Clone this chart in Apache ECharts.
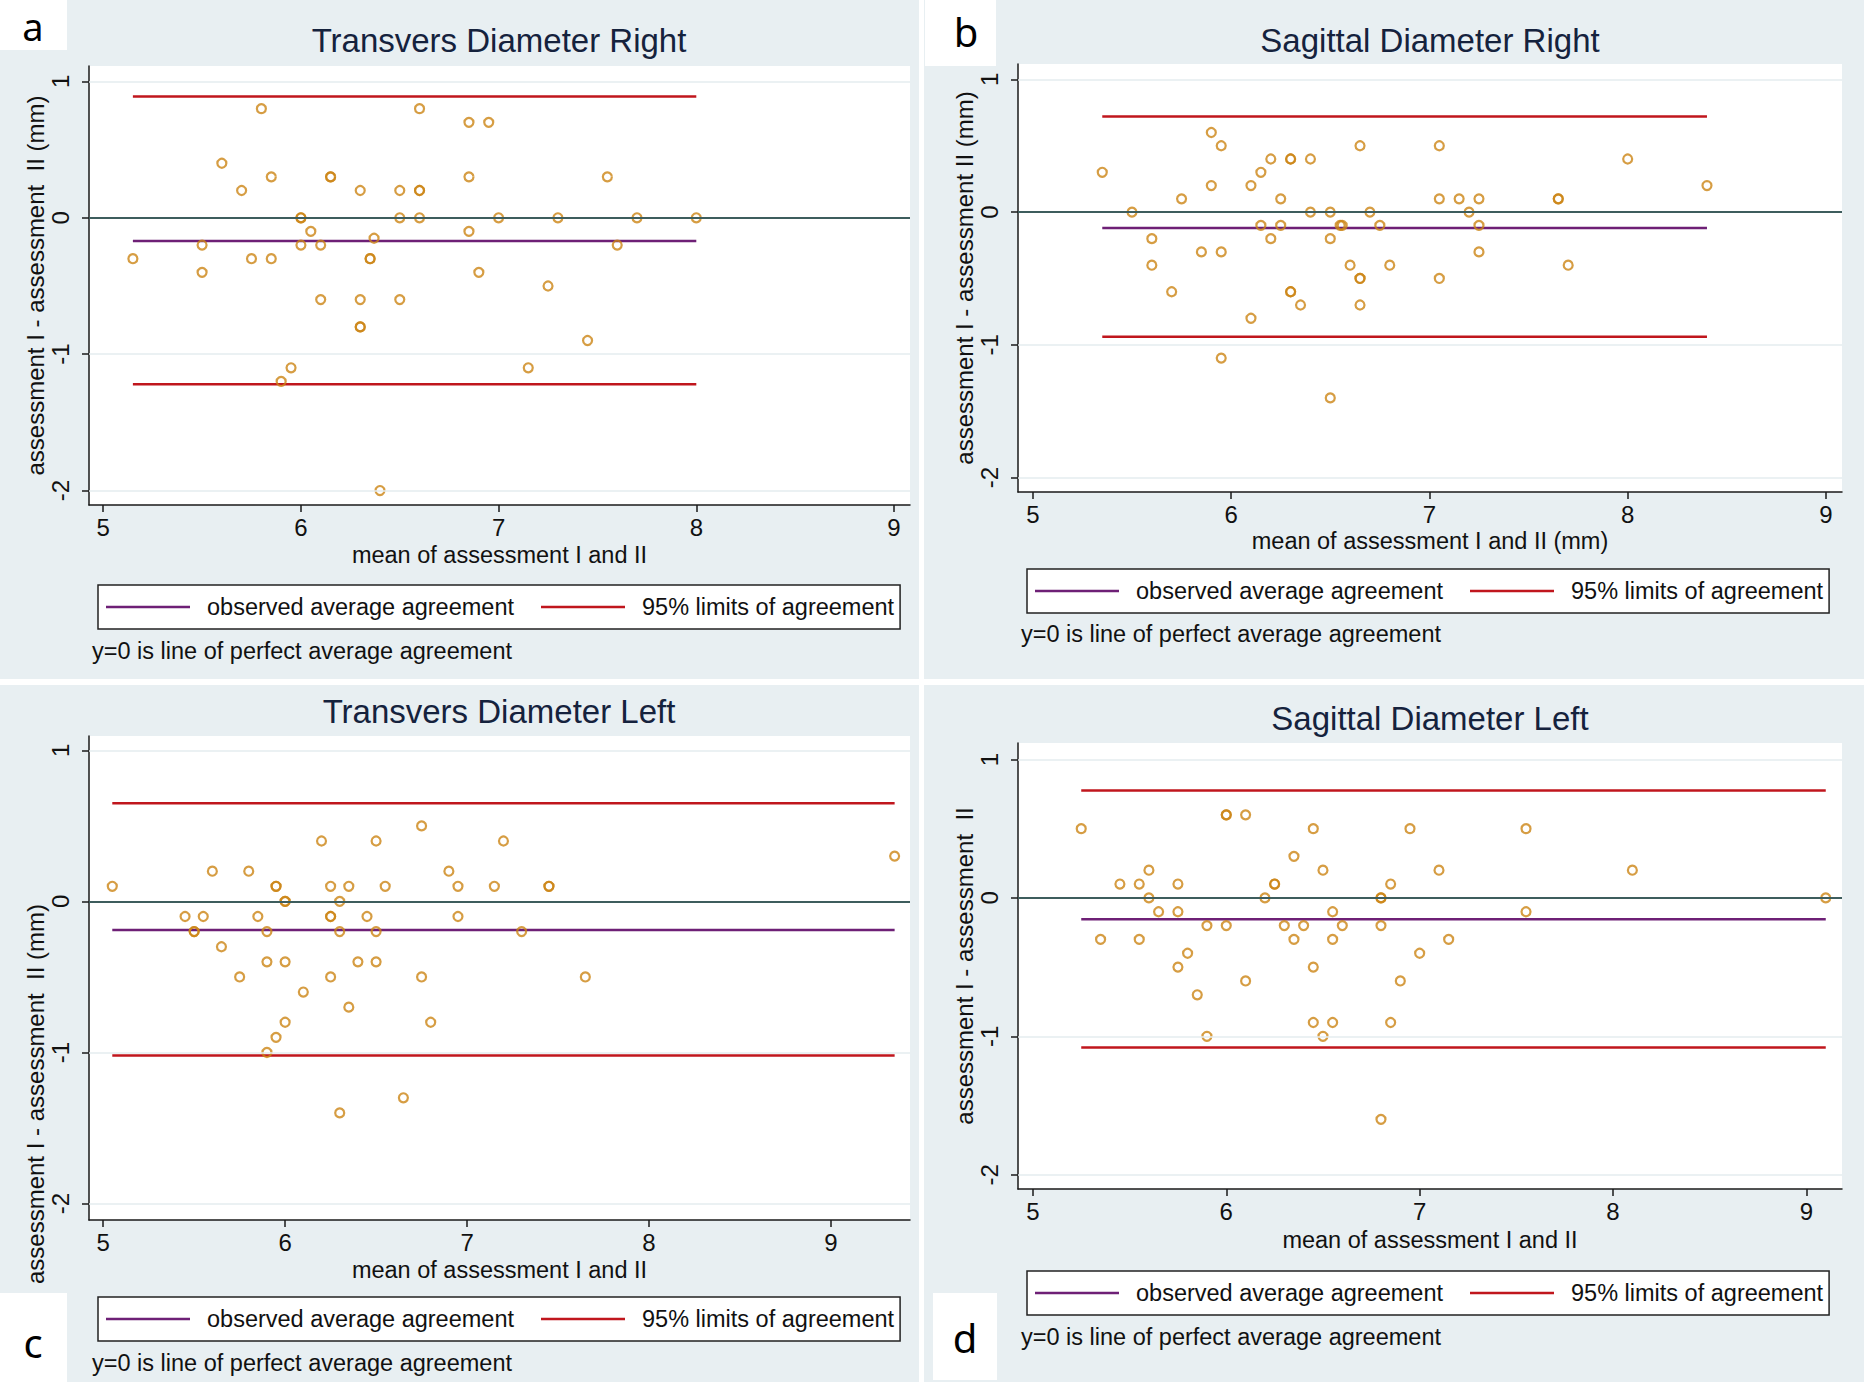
<!DOCTYPE html>
<html><head><meta charset="utf-8">
<script src="https://cdn.jsdelivr.net/npm/echarts@6/dist/echarts.min.js"></script>
<style>html,body{margin:0;padding:0;background:#fff}#c{width:1864px;height:1382px}</style>
</head><body><div id="c"></div>
<script>
// ---------- DATA ----------
const titles = ['Transvers Diameter Right', 'Sagittal Diameter Right', 'Transvers Diameter Left', 'Sagittal Diameter Left'];
const xTitles = ['mean of assessment I and II', 'mean of assessment I and II (mm)', 'mean of assessment I and II', 'mean of assessment I and II'];
const yTitles = ['assessment I - assessment  II (mm)', 'assessment I - assessment II (mm)', 'assessment I - assessment  II (mm)', 'assessment I - assessment  II'];
const xTicks = [5, 6, 7, 8, 9];
const yTicks = [1, 0, -1, -2];
const legendNames = ['observed average agreement', '95% limits of agreement'];
const noteText = 'y=0 is line of perfect average agreement';
const panelLetters = ['a', 'b', 'c', 'd'];

const pointsA = [[5.15,-0.3],[5.5,-0.2],[5.5,-0.4],[5.6,0.4],[5.7,0.2],[5.75,-0.3],[5.8,0.8],[5.85,0.3],[5.85,-0.3],
 [5.95,-1.1],[5.9,-1.2],[6.0,0],[6.0,0],[6.0,-0.2],[6.05,-0.1],[6.1,-0.2],[6.1,-0.6],[6.15,0.3],[6.15,0.3],
 [6.3,0.2],[6.3,-0.6],[6.3,-0.8],[6.3,-0.8],[6.35,-0.3],[6.35,-0.3],[6.37,-0.15],[6.4,-2.0],[6.5,0.2],[6.5,0],
 [6.5,-0.6],[6.6,0.8],[6.6,0.2],[6.6,0.2],[6.6,0],[6.85,0.7],[6.85,0.3],[6.85,-0.1],[6.95,0.7],[6.9,-0.4],
 [7.0,0],[7.15,-1.1],[7.25,-0.5],[7.3,0],[7.45,-0.9],[7.55,0.3],[7.6,-0.2],[7.7,0],[8.0,0]];
const pointsB = [[5.35,0.3],[5.5,0],[5.6,-0.2],[5.6,-0.4],[5.7,-0.6],[5.75,0.1],[5.85,-0.3],[5.9,0.6],[5.9,0.2],
 [5.95,0.5],[5.95,-0.3],[5.95,-1.1],[6.1,0.2],[6.1,-0.8],[6.15,0.3],[6.15,-0.1],[6.2,0.4],[6.2,-0.2],[6.25,0.1],
 [6.25,-0.1],[6.3,0.4],[6.3,0.4],[6.3,-0.6],[6.3,-0.6],[6.35,-0.7],[6.4,0.4],[6.4,0],[6.5,0],[6.5,-0.2],[6.5,-1.4],
 [6.55,-0.1],[6.56,-0.1],[6.6,-0.4],[6.65,0.5],[6.65,-0.5],[6.65,-0.5],[6.65,-0.7],[6.7,0],[6.75,-0.1],[6.8,-0.4],
 [7.05,0.5],[7.05,0.1],[7.05,-0.5],[7.15,0.1],[7.2,0],[7.25,0.1],[7.25,-0.1],[7.25,-0.3],[7.65,0.1],[7.65,0.1],
 [7.7,-0.4],[8.0,0.4],[8.4,0.2]];
const pointsC = [[5.05,0.1],[5.45,-0.1],[5.5,-0.2],[5.5,-0.2],[5.55,-0.1],[5.6,0.2],[5.65,-0.3],[5.75,-0.5],[5.8,0.2],
 [5.85,-0.1],[5.9,-0.2],[5.9,-0.4],[5.9,-1.0],[5.95,0.1],[5.95,0.1],[5.95,-0.9],[6.0,0],[6.0,0],[6.0,-0.4],[6.0,-0.8],
 [6.1,-0.6],[6.2,0.4],[6.25,0.1],[6.25,-0.1],[6.25,-0.1],[6.25,-0.5],[6.3,0],[6.3,-0.2],[6.3,-1.4],[6.35,0.1],
 [6.35,-0.7],[6.4,-0.4],[6.45,-0.1],[6.5,0.4],[6.5,-0.2],[6.5,-0.4],[6.55,0.1],[6.65,-1.3],[6.75,0.5],[6.75,-0.5],
 [6.8,-0.8],[6.9,0.2],[6.95,0.1],[6.95,-0.1],[7.15,0.1],[7.2,0.4],[7.3,-0.2],[7.45,0.1],[7.45,0.1],[7.65,-0.5],[9.35,0.3]];
const pointsD = [[5.25,0.5],[5.35,-0.3],[5.45,0.1],[5.55,0.1],[5.55,-0.3],[5.6,0.2],[5.6,0],[5.65,-0.1],[5.75,0.1],
 [5.75,-0.1],[5.75,-0.5],[5.8,-0.4],[5.85,-0.7],[5.9,-0.2],[5.9,-1.0],[6.0,0.6],[6.0,0.6],[6.0,-0.2],[6.1,0.6],
 [6.1,-0.6],[6.2,0],[6.25,0.1],[6.25,0.1],[6.3,-0.2],[6.35,0.3],[6.35,-0.3],[6.4,-0.2],[6.45,0.5],[6.45,-0.5],
 [6.45,-0.9],[6.5,0.2],[6.5,-1.0],[6.55,-0.1],[6.55,-0.3],[6.55,-0.9],[6.6,-0.2],[6.8,0],[6.8,0],[6.8,-0.2],
 [6.8,-1.6],[6.85,0.1],[6.85,-0.9],[6.9,-0.6],[6.95,0.5],[7.0,-0.4],[7.1,0.2],[7.15,-0.3],[7.55,0.5],[7.55,-0.1],
 [8.1,0.2],[9.1,0]];
const allPoints = [pointsA, pointsB, pointsC, pointsD];

const meanDiff = [-0.17, -0.12, -0.19, -0.155];
const lowerLimit = [-1.22, -0.94, -1.02, -1.08];
const upperLimit = [0.89, 0.72, 0.65, 0.775];
const lineStart = [5.15, 5.35, 5.05, 5.25];
const lineEnd = [8.0, 8.4, 9.35, 9.1];

// ---------- LAYOUT / STYLE ----------
const FONT = "'Liberation Sans', Arial, sans-serif";
const BG = '#e8eff2';
const C_MARK = '#cc8414', C_MEAN = '#6e2076', C_LIM = '#c0161d', C_ZERO = '#3d5d5d', C_GRIDL = '#e4ecef';
const layout = [
  {grid:{left:89, top:66, width:821, height:439}, x:[4.928,9.081], y:[-2.106,1.113], tcx:499, tcy:40, lg:{left:98, top:585}, note:{x:92, y:651}, xGap:38, yShift:0,
   bg:[0,0,919,679], box:[0,0,67,50], lx:33, ly:26, ls:38},
  {grid:{left:1018, top:64, width:824, height:428}, x:[4.925,9.081], y:[-2.109,1.116], tcx:1430, tcy:40, lg:{left:1027, top:569}, note:{x:1021, y:634}, xGap:37, yShift:0,
   bg:[924,0,940,679], box:[925,0,71,66], lx:966, ly:31, ls:40},
  {grid:{left:89, top:736, width:821, height:484}, x:[4.922,9.4345], y:[-2.109,1.095], tcx:499, tcy:711, lg:{left:98, top:1297}, note:{x:92, y:1363}, xGap:38, yShift:116,
   bg:[0,685,919,697], box:[0,1293,67,89], lx:33, ly:1342, ls:40},
  {grid:{left:1018, top:743, width:824, height:446}, x:[4.923,9.184], y:[-2.103,1.119], tcx:1430, tcy:718, lg:{left:1027, top:1271}, note:{x:1021, y:1337}, xGap:39, yShift:0,
   bg:[924,685,940,697], box:[933,1293,64,87], lx:965, ly:1337, ls:40}
];

const grids = [], xAxes = [], yAxes = [], series = [], legends = [], titlesOpt = [], graphics = [];
layout.forEach((L, i) => {
  grids.push(Object.assign({show:true, backgroundColor:'#ffffff', borderWidth:0, containLabel:false}, L.grid));
  xAxes.push({
    gridIndex:i, type:'value', min:L.x[0], max:L.x[1],
    axisLine:{show:true, onZero:false, lineStyle:{color:'#1a1a1a', width:1.5}},
    axisTick:{show:true, length:7, customValues:xTicks, lineStyle:{color:'#1a1a1a', width:1.5}},
    axisLabel:{customValues:xTicks, margin:10, fontSize:24, color:'#111', fontFamily:FONT},
    splitLine:{show:false},
    name:xTitles[i], nameLocation:'middle', nameGap:L.xGap,
    nameTextStyle:{fontSize:23.5, color:'#111', fontFamily:FONT}
  });
  yAxes.push({
    gridIndex:i, type:'value', min:L.y[0], max:L.y[1],
    axisLine:{show:true, onZero:false, lineStyle:{color:'#1a1a1a', width:1.5}},
    axisTick:{show:true, length:7, customValues:yTicks, lineStyle:{color:'#1a1a1a', width:1.5}},
    axisLabel:{customValues:yTicks, rotate:90, margin:17, fontSize:24, color:'#111', fontFamily:FONT},
    splitLine:{show:false},
    name:yTitles[i], nameLocation:'middle', nameRotate:90, nameGap:38,
    nameTextStyle:{fontSize:24, color:'#111', fontFamily:FONT, padding: L.yShift ? [0, 2*L.yShift, 0, 0] : 0}
  });
  // grid lines and zero line
  series.push({
    type:'line', xAxisIndex:i, yAxisIndex:i, data:[], silent:true, z:1,
    markLine:{silent:true, symbol:['none','none'], label:{show:false}, animation:false,
      lineStyle:{color:C_GRIDL, width:1.5, type:'solid'},
      data: yTicks.filter(v => v !== 0).map(v => ({yAxis:v}))}
  });
  series.push({
    type:'line', xAxisIndex:i, yAxisIndex:i, data:[], silent:true, z:2,
    markLine:{silent:true, symbol:['none','none'], label:{show:false}, animation:false,
      lineStyle:{color:C_ZERO, width:2, type:'solid'}, data:[{yAxis:0}]}
  });
  series.push({
    name:legendNames[0], type:'line', xAxisIndex:i, yAxisIndex:i, showSymbol:false, z:3,
    color:C_MEAN, lineStyle:{color:C_MEAN, width:2.5},
    data:[[lineStart[i], meanDiff[i]], [lineEnd[i], meanDiff[i]]]
  });
  series.push({
    name:legendNames[1], type:'line', xAxisIndex:i, yAxisIndex:i, showSymbol:false, z:3,
    color:C_LIM, lineStyle:{color:C_LIM, width:2.5},
    data:[[lineStart[i], upperLimit[i]], [lineEnd[i], upperLimit[i]]]
  });
  series.push({
    name:legendNames[1], type:'line', xAxisIndex:i, yAxisIndex:i, showSymbol:false, z:3,
    color:C_LIM, lineStyle:{color:C_LIM, width:2.5},
    data:[[lineStart[i], lowerLimit[i]], [lineEnd[i], lowerLimit[i]]]
  });
  series.push({
    name:'differences', type:'scatter', xAxisIndex:i, yAxisIndex:i, z:4,
    symbol:'circle', symbolSize:9,
    itemStyle:{color:'rgba(255,255,255,0)', borderColor:C_MARK, borderWidth:2.2},
    data: allPoints[i]
  });
  legends.push({
    data:legendNames, left:L.lg.left, top:L.lg.top, orient:'horizontal',
    icon:'rect', itemWidth:84, itemHeight:2.5, itemGap:27, selectedMode:false,
    backgroundColor:'#ffffff', borderColor:'#222', borderWidth:1.5, borderRadius:0,
    padding:[10, 6, 10, 8],
    textStyle:{fontSize:23.5, lineHeight:24, color:'#111', fontFamily:FONT, padding:[0,0,0,12]}
  });
  titlesOpt.push({
    text:titles[i], left:L.tcx, top:L.tcy - 17, textAlign:'center', padding:0,
    textStyle:{fontSize:33, lineHeight:34, fontWeight:'normal', color:'#15223d', fontFamily:FONT}
  });
  titlesOpt.push({
    text:noteText, left:L.note.x, top:L.note.y - 12, padding:0,
    textStyle:{fontSize:23.5, lineHeight:24, fontWeight:'normal', color:'#111', fontFamily:FONT}
  });
  graphics.push({type:'rect', z:-100, silent:true, shape:{x:L.bg[0], y:L.bg[1], width:L.bg[2], height:L.bg[3]}, style:{fill:BG}});
  graphics.push({type:'rect', z:100, silent:true, shape:{x:L.box[0], y:L.box[1], width:L.box[2], height:L.box[3]}, style:{fill:'#ffffff'}});
  graphics.push({type:'text', z:101, silent:true, x:L.lx, y:L.ly,
    style:{text:panelLetters[i], fill:'#000', font:L.ls + "px 'Noto Sans', 'Open Sans', sans-serif", textAlign:'center', textVerticalAlign:'middle'}});
});

const chart = echarts.init(document.getElementById('c'), null, {renderer:'svg', width:1864, height:1382});
chart.setOption({
  animation:false,
  backgroundColor:'#ffffff',
  title:titlesOpt,
  legend:legends,
  grid:grids,
  xAxis:xAxes,
  yAxis:yAxes,
  series:series,
  graphic:{elements:graphics}
});
</script>
</body></html>
